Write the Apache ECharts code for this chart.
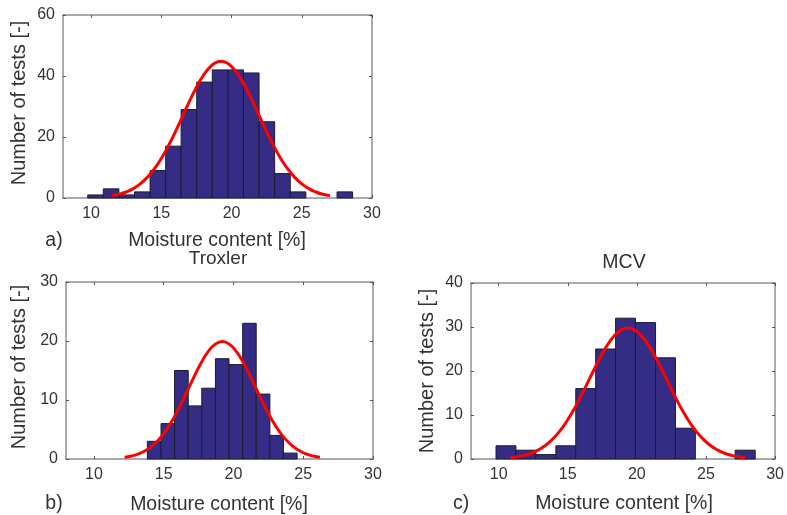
<!DOCTYPE html>
<html>
<head>
<meta charset="utf-8">
<script src="https://cdn.jsdelivr.net/npm/echarts@6/dist/echarts.min.js"></script>
<style>
  html, body { margin: 0; padding: 0; background: #ffffff; }
  #chart { width: 787px; height: 515px; }
</style>
</head>
<body>
<div id="chart"></div>
<script>
// Moisture content histograms with fitted normal curves

const xTicks = [10, 15, 20, 25, 30];

// a) all tests
const aEdges = [9.76, 10.87, 11.98, 13.09, 14.20, 15.31, 16.41, 17.52, 18.63, 19.74,
                20.85, 21.96, 23.07, 24.18, 25.29, 26.40, 27.51, 28.62];
const aCounts = [1, 3, 1, 2, 9, 17, 29, 38, 42, 42, 41, 25, 8, 2, 0, 0, 2];
const aCurveX = [11.5, 12.0, 12.5, 13.0, 13.5, 14.0, 14.5, 15.0, 15.5, 16.0, 16.5,
                 17.0, 17.5, 18.0, 18.5, 19.0, 19.25, 19.5, 20.0, 20.5, 21.0, 21.5, 22.0,
                 22.5, 23.0, 23.5, 24.0, 24.5, 25.0, 25.5, 26.0, 26.5, 27.0];
const aCurveY = [0.73, 1.22, 1.97, 3.07, 4.64, 6.77, 9.53, 12.98, 17.08, 21.71, 26.67,
                 31.66, 36.31, 40.25, 43.10, 44.61, 44.80, 44.61, 43.10, 40.25, 36.31, 31.66, 26.67,
                 21.71, 17.08, 12.98, 9.53, 6.77, 4.64, 3.07, 1.97, 1.22, 0.73];
const aYTicks = { min: 0, max: 60, interval: 20 };

// b) Troxler
const bEdges = [13.83, 14.81, 15.78, 16.76, 17.73, 18.71, 19.68, 20.66, 21.63, 22.61,
                23.58, 24.56];
const bCounts = [3, 6, 15, 9, 12, 17, 16, 23, 11, 4, 1];
const bCurveX = [12.2, 12.7, 13.2, 13.7, 14.2, 14.7, 15.2, 15.7, 16.2, 16.7, 17.2, 17.7,
                 18.2, 18.7, 19.2, 19.7, 20.2, 20.7, 21.2, 21.7, 22.2, 22.7, 23.2, 23.7,
                 24.2, 24.7, 25.2, 25.7, 26.2];
const bCurveY = [0.28, 0.51, 0.87, 1.44, 2.27, 3.43, 4.96, 6.87, 9.11, 11.57, 14.06, 16.37,
                 18.25, 19.47, 19.90, 19.47, 18.25, 16.37, 14.06, 11.57, 9.11, 6.87, 4.96, 3.43,
                 2.27, 1.44, 0.87, 0.51, 0.28];
const bYTicks = { min: 0, max: 30, interval: 10 };

// c) MCV
const cEdges = [9.81, 11.25, 12.69, 14.14, 15.58, 17.02, 18.46, 19.90, 21.35, 22.79,
                24.23, 25.67, 27.11, 28.56];
const cCounts = [3, 2, 1, 3, 16, 25, 32, 31, 23, 7, 0, 0, 2];
const cCurveX = [10.85, 11.35, 11.85, 12.35, 12.85, 13.35, 13.85, 14.35, 14.85, 15.35,
                 15.85, 16.35, 16.85, 17.35, 17.85, 18.35, 18.85, 19.35, 19.85, 20.35,
                 20.85, 21.35, 21.85, 22.35, 22.85, 23.35, 23.85, 24.35, 24.85, 25.35,
                 25.85, 26.35, 26.85, 27.35, 27.85];
const cCurveY = [0.30, 0.50, 0.83, 1.31, 2.01, 3.00, 4.33, 6.05, 8.19, 10.74, 13.65, 16.79,
                 20.00, 23.09, 25.82, 27.96, 29.33, 29.80, 29.33, 27.96, 25.82, 23.09, 20.00,
                 16.79, 13.65, 10.74, 8.19, 6.05, 4.33, 3.00, 2.01, 1.31, 0.83, 0.50, 0.30];
const cYTicks = { min: 0, max: 40, interval: 10 };

const FONT = '"Liberation Sans", Arial, Helvetica, sans-serif';
const TEXT = '#333333';
const BOX = '#8f8f8f';
const BAR_FILL = '#352c85';
const BAR_EDGE = '#1c1c2c';

const panels = [
  { grid: { left: 63, top: 15, width: 309, height: 183 }, edges: aEdges, counts: aCounts,
    cx: aCurveX, cy: aCurveY, y: aYTicks },
  { grid: { left: 66, top: 282, width: 307, height: 177 }, edges: bEdges, counts: bCounts,
    cx: bCurveX, cy: bCurveY, y: bYTicks },
  { grid: { left: 471, top: 283, width: 307, height: 176 }, edges: cEdges, counts: cCounts,
    cx: cCurveX, cy: cCurveY, y: cYTicks }
];

function xAxisFor(gridIndex, position, labels) {
  return {
    type: 'value', gridIndex, position, min: 8, max: 30,
    axisLine: { show: true, onZero: false, lineStyle: { color: BOX, width: 1.5 } },
    axisTick: { show: true, inside: true, length: 3, customValues: xTicks,
                lineStyle: { color: '#555555', width: 1 } },
    axisLabel: { show: labels, customValues: xTicks, fontSize: 16, color: TEXT,
                 fontFamily: FONT, margin: 8 },
    splitLine: { show: false }
  };
}

function yAxisFor(gridIndex, position, labels, yt) {
  return {
    type: 'value', gridIndex, position, min: yt.min, max: yt.max, interval: yt.interval,
    axisLine: { show: true, onZero: false, lineStyle: { color: BOX, width: 1.5 } },
    axisTick: { show: true, inside: true, length: 3, lineStyle: { color: '#555555', width: 1 } },
    axisLabel: { show: labels, fontSize: 16, color: TEXT, fontFamily: FONT, margin: 8 },
    splitLine: { show: false }
  };
}

function renderBin(params, api) {
  const count = api.value(2);
  if (!count) return null;
  const p0 = api.coord([api.value(0), count]);
  const p1 = api.coord([api.value(1), 0]);
  return {
    type: 'rect',
    shape: { x: p0[0], y: p0[1], width: p1[0] - p0[0], height: p1[1] - p0[1] },
    style: { fill: BAR_FILL, stroke: BAR_EDGE, lineWidth: 1 }
  };
}

const grids = [], xAxes = [], yAxes = [], series = [];
panels.forEach((p, i) => {
  grids.push(Object.assign({ containLabel: false }, p.grid));
  xAxes.push(xAxisFor(i, 'bottom', true), xAxisFor(i, 'top', false));
  yAxes.push(yAxisFor(i, 'left', true, p.y), yAxisFor(i, 'right', false, p.y));
  const bins = p.counts.map((c, k) => [p.edges[k], p.edges[k + 1], c]);
  series.push({
    type: 'custom', xAxisIndex: 2 * i, yAxisIndex: 2 * i,
    renderItem: renderBin, data: bins, encode: { x: [0, 1], y: 2 }, z: 2, silent: true
  });
  series.push({
    type: 'line', xAxisIndex: 2 * i, yAxisIndex: 2 * i,
    data: p.cx.map((x, k) => [x, p.cy[k]]),
    smooth: true, showSymbol: false, symbol: 'none',
    lineStyle: { color: '#ff0000', width: 3 }, z: 3, silent: true
  });
});

function label(text, x, y, size, rotate) {
  return {
    type: 'text', x, y, rotation: rotate ? Math.PI / 2 : 0, silent: true,
    style: { text, fill: TEXT, font: size + 'px ' + FONT, textAlign: 'center',
             textVerticalAlign: 'middle' }
  };
}

const graphics = [
  label('Number of tests [-]', 19, 103, 20, true),
  label('Number of tests [-]', 19, 367, 20, true),
  label('Number of tests [-]', 427, 371, 20, true),
  label('Moisture content [%]', 217, 241, 19.5, false),
  label('Moisture content [%]', 219, 505, 19.5, false),
  label('Moisture content [%]', 624, 504, 19.5, false),
  label('a)', 54, 241, 19.5, false),
  label('b)', 54, 504, 19.5, false),
  label('c)', 461, 504, 19.5, false),
  label('Troxler', 218, 259, 19, false),
  label('MCV', 624, 263, 19.5, false)
];

const chart = echarts.init(document.getElementById('chart'), null, { renderer: 'canvas' });
chart.setOption({
  animation: false,
  backgroundColor: '#ffffff',
  grid: grids,
  xAxis: xAxes,
  yAxis: yAxes,
  series: series,
  graphic: graphics
});
</script>
</body>
</html>
